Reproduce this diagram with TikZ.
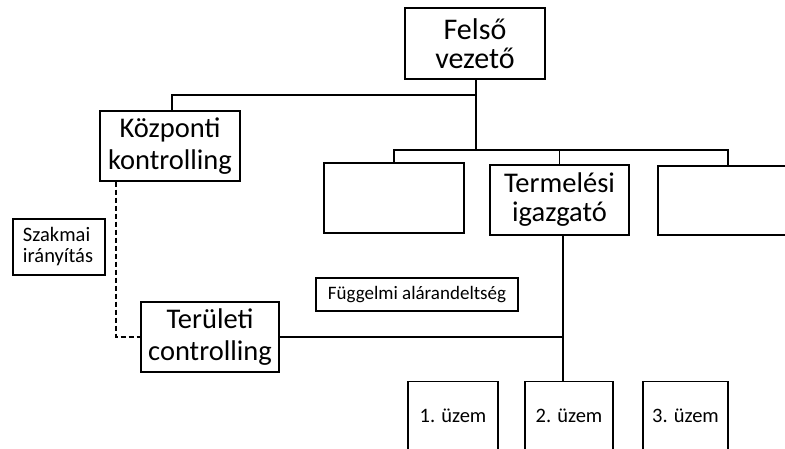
\documentclass[tikz,border=0pt]{standalone}
\usepackage{fontspec}
\setmainfont{Carlito}
\begin{document}
\begin{tikzpicture}[x=1pt,y=-1pt,
  line width=1.3pt,
  box/.style={draw, align=center, inner sep=0pt, font=\fontsize{28.5}{29}\selectfont},
  widebox/.style={box, font=\fontsize{28.5}{32}\selectfont},
  smallbox/.style={draw, align=left, inner sep=0pt, font=\fontsize{20.5}{21}\selectfont},
  plant/.style={draw, inner sep=0pt, text height=41pt, text depth=40pt, anchor=north, font=\fontsize{20.5}{23}\selectfont},
  dashline/.style={dash pattern=on 5pt off 3pt}]
\clip (0,0) rectangle (785,449);
\fill[white] (0,0) rectangle (785,449);

% boxes
\node[box, minimum width=140pt, minimum height=71pt, font=\fontsize{30}{29}\selectfont] (felso) at (475,43.5) {Felső\\vezető};
\node[widebox, minimum width=140pt, minimum height=70pt] (kozp) at (170,146) {Központi\\kontrolling};
\node[box, minimum width=140pt, minimum height=70pt] (ures) at (394,198) {};
\node[box, minimum width=139pt, minimum height=70pt] (term) at (559.5,200) {Termelési\\igazgató};
\node[box, minimum width=140pt, minimum height=69pt] (jobb) at (728,200.5) {};
\node[smallbox, minimum width=92pt, minimum height=56pt, text width=72pt, inner xsep=10pt] (szak) at (59,247) {Szakmai\\irányítás};
\node[widebox, minimum width=138pt, minimum height=70pt] (teru) at (210,337) {Területi\\controlling};
\node[smallbox, minimum width=202pt, minimum height=33pt, align=center, font=\fontsize{19}{22}\selectfont] (fugg) at (417,294.5) {Függelmi alárandeltség};
\node[plant, minimum width=90pt] (u1) at (453,381) {1. üzem};
\node[plant, minimum width=88pt] (u2) at (569,381) {2. üzem};
\node[plant, minimum width=85pt] (u3) at (685.5,381) {3. üzem};

% junctions
\coordinate (ja) at (476,95);
\coordinate (jb) at (476,150);
\coordinate (vx) at (563,0);

% line of command
\draw (felso.south -| ja) -- (jb);
\draw (ja) -| ([xshift=2pt]kozp.north);
\draw (ures.north) |- (jobb.north |- jb) -- (jobb.north);
\draw (term.north) -- (term.north |- jb);
\draw (term.south -| vx) -- (u2.north -| vx);
\draw (teru.east) -- (teru.east -| vx);

% professional guidance
\draw[dashline] ([xshift=-54pt]kozp.south) |- (teru.west);
\end{tikzpicture}
\end{document}
